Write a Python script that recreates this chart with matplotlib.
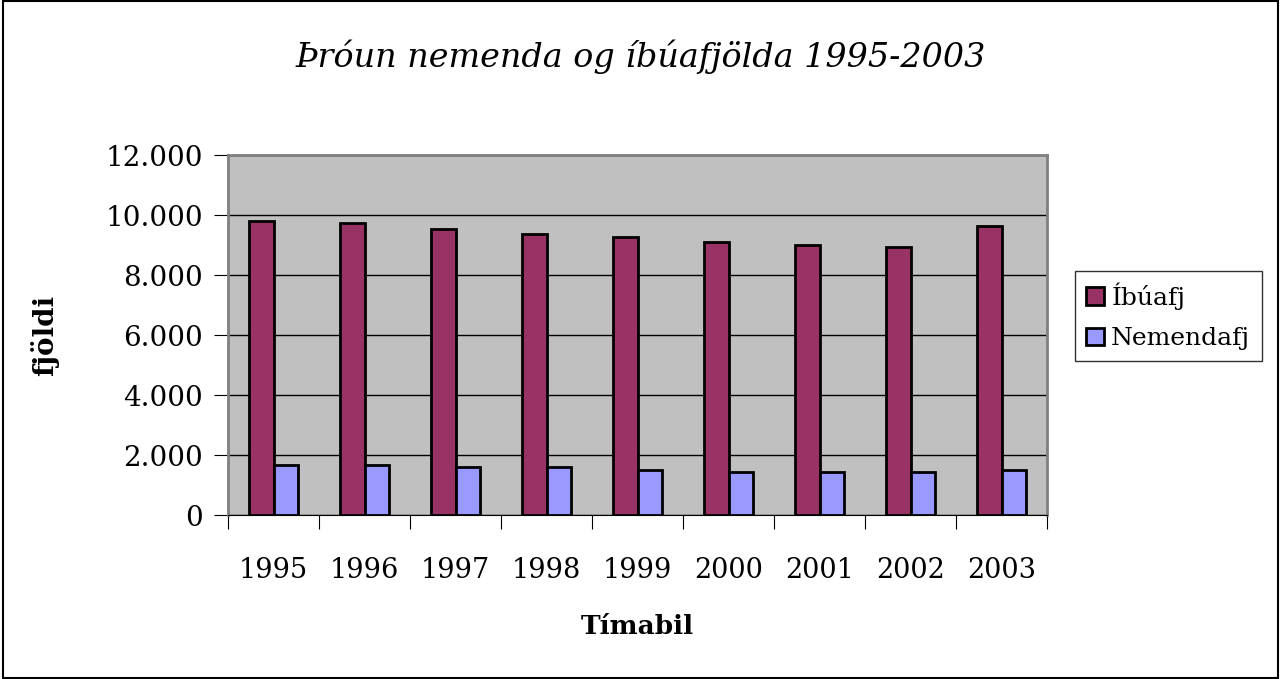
import matplotlib.pyplot as plt
import numpy as np
from matplotlib.patches import Rectangle
from matplotlib.ticker import FuncFormatter

years = ["1995", "1996", "1997", "1998", "1999", "2000", "2001", "2002", "2003"]
ibuafj = [9800, 9720, 9530, 9360, 9270, 9100, 9010, 8920, 9630]
nemendafj = [1680, 1680, 1590, 1590, 1500, 1420, 1420, 1420, 1510]

plt.rcParams['font.family'] = ['DejaVu Serif']

fig = plt.figure(figsize=(12.81, 6.79), dpi=100)
ax = fig.add_axes([228/1281, 1-515/679, (1047-228)/1281, (515-155)/679])
ax.set_facecolor('#c0c0c0')

x = np.arange(len(years))
w = 0.27
ax.bar(x - w/2, ibuafj, w, color='#993366', edgecolor='black', linewidth=2, label='Íbúafj', zorder=3)
ax.bar(x + w/2, nemendafj, w, color='#9999ff', edgecolor='black', linewidth=2, label='Nemendafj', zorder=3)

ax.set_xlim(-0.5, len(years) - 0.5)
ax.set_ylim(0, 12000)
ax.set_yticks(range(0, 12001, 2000))
ax.yaxis.set_major_formatter(FuncFormatter(lambda v, p: f"{int(v):,}".replace(",", ".")))
ax.grid(axis='y', color='black', linewidth=1, zorder=1)
ax.set_xticks(np.arange(-0.5, len(years)), minor=False)
ax.set_xticklabels([])
ax.set_xticks(x, minor=True)
ax.set_xticklabels(years, minor=True, fontsize=19.5)
ax.tick_params(axis='x', which='minor', length=0, pad=30)
ax.tick_params(axis='x', which='major', length=10, direction='out')
ax.tick_params(axis='y', length=10, labelsize=20, pad=8)

for s in ['top', 'right', 'left']:
    ax.spines[s].set_color('#808080')
    ax.spines[s].set_linewidth(2)
ax.spines['bottom'].set_color('black')

ax.set_ylabel('fjöldi', fontsize=20, fontweight='bold', labelpad=33)
ax.set_xlabel('Tímabil', fontsize=19, fontweight='bold', labelpad=22)
fig.text(0.5, 1-57/679, 'Þróun nemenda og íbúafjölda 1995-2003', fontsize=24,
         style='italic', ha='center', va='center')

leg = ax.legend(loc='center left', bbox_to_anchor=(1075/1281, 1-316/679),
                bbox_transform=fig.transFigure, fontsize=18, frameon=True,
                fancybox=False, edgecolor='black', handlelength=0.7, handleheight=0.7,
                labelspacing=0.7, borderpad=0.45, handletextpad=0.3, borderaxespad=0)
leg.get_frame().set_linewidth(1)

fig.patches.append(Rectangle((0.002, 0.002), 0.996, 0.996, transform=fig.transFigure,
                             fill=False, edgecolor='black', linewidth=1.5))

fig.savefig('out.png', dpi=100)
